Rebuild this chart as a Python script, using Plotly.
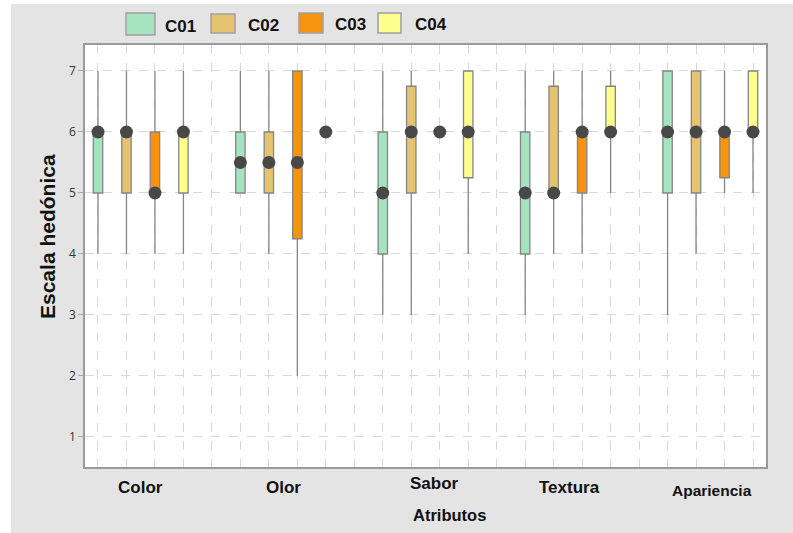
import plotly.graph_objects as go

# Attributes evaluated and the four samples
atributos = ["Color", "Olor", "Sabor", "Textura", "Apariencia"]
muestras = ["C01", "C02", "C03", "C04"]

# Box statistics per sample, in attribute order
q1 = {
    "C01": [5, 5, 4, 4, 5],
    "C02": [5, 5, 5, 5, 5],
    "C03": [5, 4.25, 6, 5, 5.25],
    "C04": [5, 6, 5.25, 6, 6],
}
mediana = {
    "C01": [6, 5.5, 5, 5, 6],
    "C02": [6, 5.5, 6, 5, 6],
    "C03": [5, 5.5, 6, 6, 6],
    "C04": [6, 6, 6, 6, 6],
}
q3 = {
    "C01": [6, 6, 6, 6, 7],
    "C02": [6, 6, 6.75, 6.75, 7],
    "C03": [6, 7, 6, 6, 6],
    "C04": [6, 6, 7, 6.75, 7],
}
minimo = {
    "C01": [4, 5, 3, 3, 3],
    "C02": [4, 4, 3, 4, 4],
    "C03": [4, 2, 6, 4, 5],
    "C04": [4, 6, 4, 5, 5],
}
maximo = {
    "C01": [7, 7, 7, 7, 7],
    "C02": [7, 7, 7, 7, 7],
    "C03": [7, 7, 6, 7, 7],
    "C04": [7, 6, 7, 7, 7],
}

colores = {"C01": "#a6e4bf", "C02": "#e5c371", "C03": "#f7940f", "C04": "#ffff8e"}
y_ticks = [1, 2, 3, 4, 5, 6, 7]

# Figure geometry (pixels)
W, H = 793, 533
ML, MR, MT, MB = 85, 27, 45, 66
PW, PH = W - ML - MR, H - MT - MB
GRIS = "#e4e4e4"


def px_x(px):
    return (px - ML) / PW


def px_y(py):
    return (H - MB - py) / PH


# Each attribute occupies 4 slots plus one empty slot
PASO = 5
n_slots = PASO * len(atributos) - 1

fig = go.Figure()

for j, m in enumerate(muestras):
    xs = [i * PASO + j for i in range(len(atributos))]
    fig.add_trace(go.Box(
        x=xs,
        q1=q1[m], median=mediana[m], q3=q3[m],
        lowerfence=minimo[m], upperfence=maximo[m],
        name=m,
        width=0.33,
        whiskerwidth=0,
        fillcolor=colores[m],
        line=dict(color="#858585", width=1.3),
        showlegend=False,
        hoverinfo="skip",
    ))

# Median markers
for j, m in enumerate(muestras):
    xs = [i * PASO + j for i in range(len(atributos))]
    fig.add_trace(go.Scatter(
        x=xs, y=mediana[m], mode="markers",
        marker=dict(color="#484848", size=13),
        showlegend=False, hoverinfo="skip",
    ))


def franja(x0, x1, y0, y1):
    # grey panel strip given in pixel coordinates
    return dict(type="rect", xref="paper", yref="paper",
                x0=px_x(x0), x1=px_x(x1), y0=px_y(y1), y1=px_y(y0),
                fillcolor=GRIS, line=dict(width=0), layer="below")


# Grey panel framing the white plotting area
shapes = [
    franja(11, ML, 4, H + 2),          # left
    franja(ML + PW, W + 2, 4, H + 2),  # right
    franja(ML, ML + PW, 4, MT),        # top
    franja(ML, ML + PW, MT + PH, H + 2),  # bottom
]

annotations = []

# Legend: coloured squares with sample labels
leyenda = [
    ("C01", 126, 155, 13, 35, 163),
    ("C02", 211, 235, 14, 33, 246),
    ("C03", 299, 323, 13, 33, 333),
    ("C04", 378, 401, 13, 33, 413),
]
for m, x0, x1, y0, y1, tx in leyenda:
    shapes.append(dict(type="rect", xref="paper", yref="paper",
                       x0=px_x(x0), x1=px_x(x1), y0=px_y(y1), y1=px_y(y0),
                       fillcolor=colores[m], line=dict(color="#a0a0a0", width=1.5)))
    annotations.append(dict(xref="paper", yref="paper", x=px_x(tx), y=px_y((y0 + y1) / 2 + 2),
                            text=f"<b>{m}</b>", showarrow=False, xanchor="left", yanchor="middle",
                            font=dict(size=17, color="#111", family="Liberation Sans, Arial")))

# Attribute labels under each group
desplaz = {"Color": (0, 0), "Olor": (0, 0), "Sabor": (9, 4), "Textura": (2, 0), "Apariencia": (2, -3)}
for i, a in enumerate(atributos):
    dx, dy = desplaz[a]
    annotations.append(dict(xref="x", yref="paper", x=i * PASO + 1.5, y=px_y(487),
                            xshift=dx, yshift=dy,
                            text=f"<b>{a}</b>", showarrow=False, xanchor="center", yanchor="middle",
                            font=dict(size=17 if a != "Apariencia" else 15.5, color="#111",
                                      family="Liberation Sans, Arial")))

annotations.append(dict(xref="paper", yref="paper", x=px_x(450), y=px_y(515),
                        text="<b>Atributos</b>", showarrow=False, xanchor="center", yanchor="middle",
                        font=dict(size=16.5, color="#111", family="Liberation Sans, Arial")))
annotations.append(dict(xref="paper", yref="paper", x=px_x(47), y=px_y(237),
                        text="<b>Escala hedónica</b>", showarrow=False, textangle=-90,
                        xanchor="center", yanchor="middle",
                        font=dict(size=21, color="#111", family="Liberation Sans, Arial")))

fig.update_layout(
    template="none",
    width=W, height=H,
    margin=dict(l=ML, r=MR, t=MT, b=MB, pad=0),
    paper_bgcolor="#ffffff",
    plot_bgcolor="#ffffff",
    shapes=shapes,
    annotations=annotations,
    showlegend=False,
    xaxis=dict(
        range=[-0.456, n_slots - 1 + 0.456],
        tick0=0, dtick=1,
        showticklabels=False, ticks="",
        showgrid=True, gridcolor="#d8d8d8", griddash="dash", gridwidth=1,
        zeroline=False,
        showline=True, mirror=True, linecolor="#9a9a9a", linewidth=1.5,
    ),
    yaxis=dict(
        range=[0.508, 7.426],
        tickvals=y_ticks,
        ticks="outside", ticklen=5, tickcolor="#aaaaaa",
        tickfont=dict(size=12, color="#333", family="Open Sans, Arial"),
        showgrid=True, gridcolor="#d8d8d8", griddash="dash", gridwidth=1,
        zeroline=False,
        showline=True, mirror=True, linecolor="#9a9a9a", linewidth=1.5,
    ),
)

fig.write_html("out.html")
